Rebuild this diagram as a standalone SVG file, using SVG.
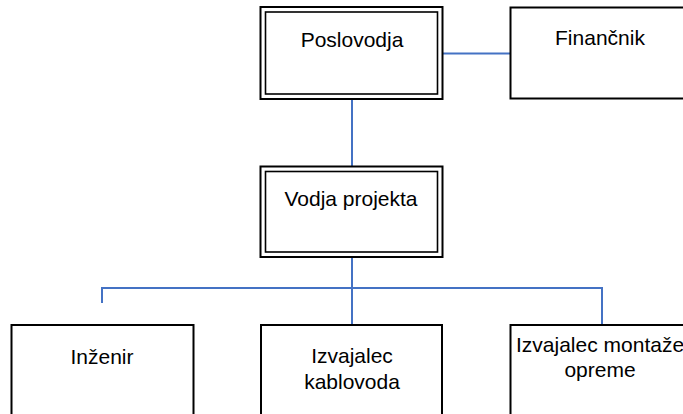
<svg xmlns="http://www.w3.org/2000/svg" width="683" height="414" viewBox="0 0 683 414">
<style>
.box{fill:#fff;stroke:#000;stroke-width:2}
.inner{fill:none;stroke:#000;stroke-width:1.6}
.t{font-family:"Liberation Sans",Arial,sans-serif;font-size:21px;fill:#000;text-anchor:middle}
.c{fill:none;stroke:#4472C4;stroke-width:2}
</style>
<rect width="683" height="414" fill="#fff"/>
<g id="connectors">
<line class="c" x1="443" y1="53.5" x2="510" y2="53.5"/>
<line class="c" x1="352" y1="99" x2="352" y2="166"/>
<line class="c" x1="352" y1="257" x2="352" y2="325"/>
<polyline class="c" points="102,303 102,288 602,288 602,325"/>
</g>
<g id="poslovodja">
<rect class="box" x="260.5" y="7" width="182" height="92"/>
<rect class="inner" x="265.5" y="12" width="172" height="82"/>
<text class="t" x="352" y="47">Poslovodja</text>
</g>
<g id="financnik">
<rect class="box" x="510.5" y="7.5" width="182" height="91"/>
<text class="t" x="600" y="45">Finančnik</text>
</g>
<g id="vodja">
<rect class="box" x="260.5" y="166.5" width="182" height="90.5"/>
<rect class="inner" x="265.5" y="171.5" width="172" height="80.5"/>
<text class="t" x="351" y="206">Vodja projekta</text>
</g>
<g id="inzenir">
<rect class="box" x="11.5" y="325" width="182" height="100"/>
<text class="t" x="102" y="364">Inženir</text>
</g>
<g id="kablovod">
<rect class="box" x="261" y="325" width="181" height="100"/>
<text class="t" x="352" y="363">Izvajalec</text>
<text class="t" x="352" y="389">kablovoda</text>
</g>
<g id="montaza">
<rect class="box" x="510.5" y="325" width="182" height="100"/>
<text class="t" x="516" y="352" style="text-anchor:start">Izvajalec montaže</text>
<text class="t" x="600" y="377">opreme</text>
</g>
</svg>
